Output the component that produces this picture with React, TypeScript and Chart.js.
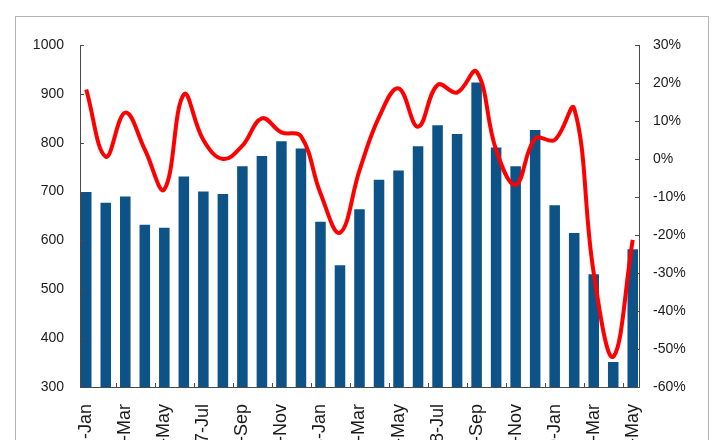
import React, { useEffect, useRef } from "react";
import { Chart, registerables } from "chart.js";

Chart.register(...registerables);

const categories: string[] = [
  "2017-Jan", "2017-Feb", "2017-Mar", "2017-Apr", "2017-May", "2017-Jun", "2017-Jul", "2017-Aug",
  "2017-Sep", "2017-Oct", "2017-Nov", "2017-Dec",
  "2018-Jan", "2018-Feb", "2018-Mar", "2018-Apr", "2018-May", "2018-Jun", "2018-Jul", "2018-Aug",
  "2018-Sep", "2018-Oct", "2018-Nov", "2018-Dec",
  "2019-Jan", "2019-Feb", "2019-Mar", "2019-Apr", "2019-May",
];

const barValues: number[] = [
  699, 677, 690, 632, 626, 731, 700, 695, 752, 773, 803, 788,
  638, 549, 664, 724, 743, 793, 836, 818, 923, 790, 752, 826,
  672, 615, 531, 351, 582,
];

const lineValues: number[] = [
  18.3, 0.6, 12.2, 2.5, -8, 17, 5, 0, 3.5, 10.7, 7, 6,
  -9, -19.4, -3, 11, 18.6, 8.5, 19.5, 17.5, 23, 2.4, -6.8, 5.4,
  5, 13.3, -30, -52, -21.3,
];

const leftTicks = [300, 400, 500, 600, 700, 800, 900, 1000];
const rightTicks = [-60, -50, -40, -30, -20, -10, 0, 10, 20, 30];

const CANVAS_H = 520;
const AXIS_COLOR = "#4a4a4a";
const TEXT_COLOR = "#1a1a1a";
const FONT = "'Liberation Sans', Arial, sans-serif";

const innerTicks = {
  id: "innerTicks",
  afterDatasetsDraw(chart: any) {
    const { ctx, chartArea, scales } = chart;
    ctx.save();
    ctx.strokeStyle = AXIS_COLOR;
    ctx.lineWidth = 1;
    ctx.beginPath();
    const y = scales.y;
    leftTicks.forEach((v) => {
      const py = Math.round(y.getPixelForValue(v)) + 0.5;
      ctx.moveTo(chartArea.left, py);
      ctx.lineTo(chartArea.left + 4, py);
    });
    const y1 = scales.y1;
    rightTicks.forEach((v) => {
      const py = Math.round(y1.getPixelForValue(v)) + 0.5;
      ctx.moveTo(chartArea.right, py);
      ctx.lineTo(chartArea.right - 4, py);
    });
    const x = scales.x;
    for (let i = 2; i < categories.length; i += 2) {
      const px = Math.round((x.getPixelForValue(i - 1) + x.getPixelForValue(i)) / 2) + 0.5;
      ctx.moveTo(px, chartArea.bottom);
      ctx.lineTo(px, chartArea.bottom - 4);
    }
    ctx.stroke();
    ctx.restore();
  },
};

export default function App() {
  const ref = useRef<HTMLCanvasElement | null>(null);

  useEffect(() => {
    if (!ref.current) return;
    const chart = new Chart(ref.current, {
      type: "bar",
      data: {
        labels: categories,
        datasets: [
          {
            type: "line",
            label: "YoY",
            data: lineValues,
            yAxisID: "y1",
            borderColor: "#ff0000",
            borderWidth: 4,
            pointRadius: 0,
            tension: 0.4,
            fill: false,
            order: 0,
          } as any,
          {
            type: "bar",
            label: "Value",
            data: barValues,
            yAxisID: "y",
            backgroundColor: "#0e5387",
            barPercentage: 0.54,
            categoryPercentage: 1,
            order: 1,
          },
        ],
      },
      options: {
        animation: false,
        responsive: false,
        maintainAspectRatio: false,
        layout: { padding: { top: 45, left: 0, right: 0, bottom: 0 } },
        plugins: { legend: { display: false }, tooltip: { enabled: false } },
        scales: {
          x: {
            offset: true,
            grid: { display: false, drawTicks: false },
            border: { display: true, color: AXIS_COLOR, width: 1 },
            ticks: {
              autoSkip: false,
              maxRotation: 90,
              minRotation: 90,
              padding: 17,
              color: TEXT_COLOR,
              font: { family: FONT, size: 18 },
              callback: (_v: any, i: number) => (i % 2 === 0 ? categories[i] : null),
            },
            afterBuildTicks: (s: any) => {
              s._startValue = -0.32;
              s._valueRange = categories.length - 1 + 0.64;
            },
            afterFit: (s: any) => {
              s.height = CANVAS_H - 387;
            },
          },
          y: {
            position: "left",
            min: 300,
            max: 1000,
            grid: { display: false, drawTicks: false },
            border: { display: true, color: AXIS_COLOR, width: 1 },
            ticks: {
              stepSize: 100,
              padding: 16,
              color: TEXT_COLOR,
              font: { family: FONT, size: 14 },
              callback: (v: any) => String(v),
            },
            afterFit: (s: any) => {
              s.width = 80;
            },
          },
          y1: {
            position: "right",
            min: -60,
            max: 30,
            grid: { display: false, drawTicks: false },
            border: { display: true, color: AXIS_COLOR, width: 1 },
            ticks: {
              stepSize: 10,
              padding: 14,
              color: TEXT_COLOR,
              font: { family: FONT, size: 14 },
              callback: (v: any) => `${v}%`,
            },
            afterFit: (s: any) => {
              s.width = 81;
            },
          },
        },
      },
      plugins: [innerTicks],
    });
    return () => chart.destroy();
  }, []);

  return (
    <div
      style={{
        position: "fixed",
        left: 0,
        top: 0,
        width: 720,
        height: 440,
        overflow: "hidden",
        background: "#ffffff",
      }}
    >
      <div
        style={{
          position: "absolute",
          left: 15,
          top: 16,
          width: 692,
          height: 500,
          border: "1px solid #b4b4b4",
        }}
      />
      <canvas
        ref={ref}
        width={720}
        height={CANVAS_H}
        style={{ position: "absolute", left: 0, top: 0, width: 720, height: CANVAS_H }}
      />
    </div>
  );
}
